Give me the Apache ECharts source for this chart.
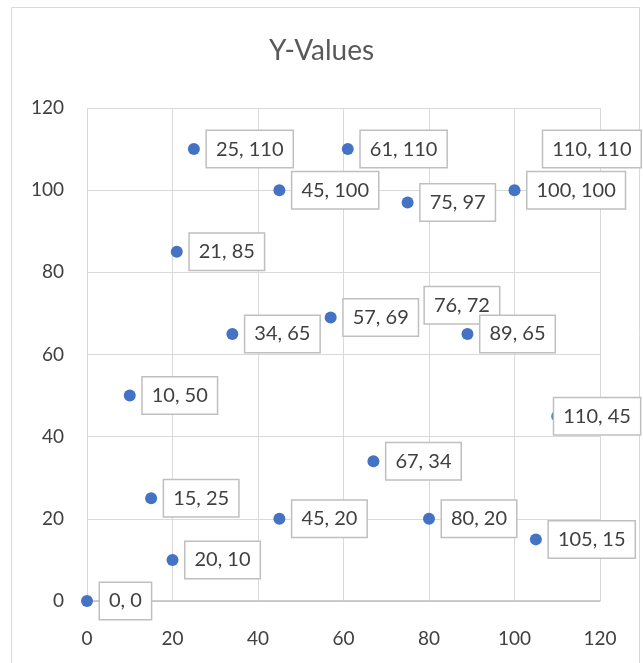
<!DOCTYPE html>
<html lang="en">
<head>
<meta charset="utf-8">
<title>Y-Values</title>
<script src="https://cdn.jsdelivr.net/npm/echarts@6/dist/echarts.min.js"></script>
<style>
  html, body { margin: 0; padding: 0; background: #fff; }
  #main { width: 643px; height: 663px; }
</style>
</head>
<body>
<div id="main"></div>
<script>
// scatter points
var xValues = [0, 20, 15, 10, 21, 25, 34, 45, 45, 57, 61, 67, 75, 76, 80, 89, 100, 105, 110, 110];
var yValues = [0, 10, 25, 50, 85, 110, 65, 100, 20, 69, 110, 34, 97, 72, 20, 65, 100, 15, 110, 45];
var axisMin = 0, axisMax = 120, axisStep = 20;

// labels that Excel pushed back inside the chart area
var labelShift = { 18: [-27, 0], 19: [-16, 0] };

var points = xValues.map(function (x, i) {
    var p = { value: [x, yValues[i]] };
    if (labelShift[i]) p.label = { offset: labelShift[i] };
    return p;
});

var font = 'Lato';
var myChart = echarts.init(document.getElementById('main'));
var option = {
    animation: false,
    title: {
        text: 'Y-Values',
        left: 'center',
        top: 32,
        textStyle: { fontFamily: font, fontSize: 28, fontWeight: 'normal', color: '#595959' }
    },
    graphic: [{
        type: 'rect',
        shape: { x: 11.5, y: 7.5, width: 628, height: 700 },
        style: { fill: 'none', stroke: '#d9d9d9', lineWidth: 1 },
        silent: true
    }],
    grid: { left: 87, right: 43, top: 108, bottom: 62 },
    xAxis: {
        type: 'value',
        min: axisMin, max: axisMax, interval: axisStep,
        axisLine: { show: true, lineStyle: { color: '#bfbfbf', width: 1.5 } },
        axisTick: { show: false },
        splitLine: { lineStyle: { color: '#d9d9d9', width: 1 } },
        axisLabel: { margin: 28, fontFamily: font, fontSize: 19, color: '#404040' }
    },
    yAxis: {
        type: 'value',
        min: axisMin, max: axisMax, interval: axisStep,
        axisLine: { show: false },
        axisTick: { show: false },
        splitLine: { lineStyle: { color: '#d9d9d9', width: 1 } },
        axisLabel: { margin: 23, fontFamily: font, fontSize: 19, color: '#404040' }
    },
    series: [{
        type: 'scatter',
        symbolSize: 12,
        itemStyle: { color: '#4472c4', opacity: 1 },
        label: {
            show: true,
            position: 'right',
            distance: 7,
            formatter: function (p) { return p.value[0] + ', ' + p.value[1]; },
            fontFamily: font,
            fontSize: 20,
            lineHeight: 20,
            color: '#404040',
            opacity: 1,
            backgroundColor: '#fff',
            borderColor: '#bfbfbf',
            borderWidth: 1.5,
            padding: [8, 9]
        },
        data: points
    }]
};
myChart.setOption(option);
</script>
</body>
</html>
